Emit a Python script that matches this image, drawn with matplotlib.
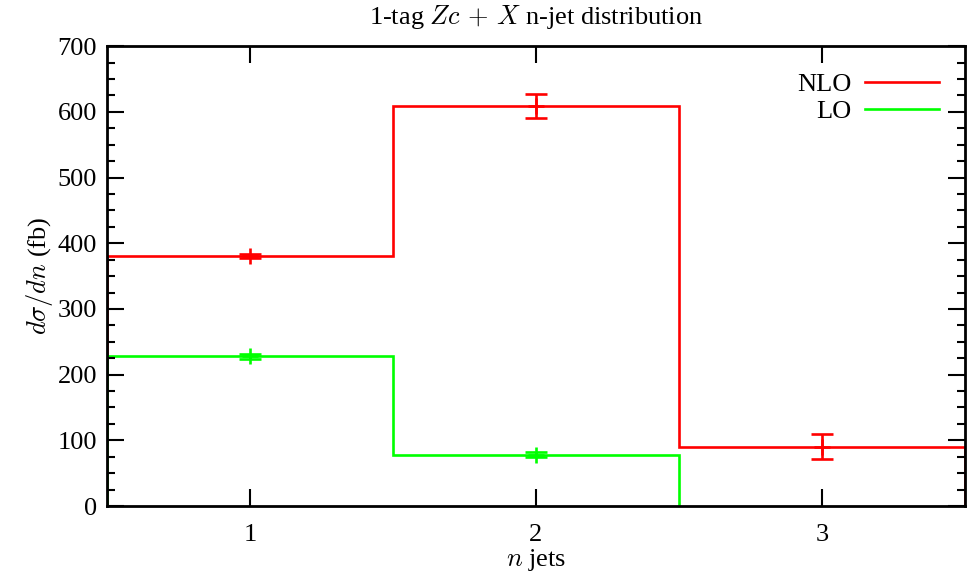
import numpy as np
import matplotlib.pyplot as plt
from matplotlib.ticker import MultipleLocator

plt.rcParams['font.family'] = ['Liberation Serif', 'DejaVu Serif']
plt.rcParams['mathtext.fontset'] = 'cm'

# bin edges and per-bin cross sections (fb)
nlo_edges = [0.5, 1.5, 2.5, 3.5]
nlo_vals = [381, 609, 90]
nlo_err = [3, 18, 19]

lo_edges = [0.5, 1.5, 2.5]
lo_vals = [228, 78]
lo_err = [4, 4]

fig = plt.figure(figsize=(9.71, 5.77), dpi=100)
ax = fig.add_axes([0.110, 0.123, 0.884, 0.797])

red = '#ff0000'
green = '#00ff00'

centers_nlo = 0.5 * (np.array(nlo_edges[:-1]) + np.array(nlo_edges[1:]))
centers_lo = 0.5 * (np.array(lo_edges[:-1]) + np.array(lo_edges[1:]))

ax.stairs(nlo_vals, nlo_edges, baseline=0, color=red, lw=1.9, label='NLO')
ax.errorbar(centers_nlo, nlo_vals, yerr=nlo_err, fmt='+', color=red,
            ms=12, mew=1.9, elinewidth=1.9, capsize=8, capthick=1.9)

ax.stairs(lo_vals, lo_edges, baseline=0, color=green, lw=1.9, label='LO')
ax.errorbar(centers_lo, lo_vals, yerr=lo_err, fmt='+', color=green,
            ms=12, mew=1.9, elinewidth=1.9, capsize=8, capthick=1.9)

ax.set_xlim(0.5, 3.5)
ax.set_ylim(0, 700)
ax.set_xticks([1, 2, 3])
ax.yaxis.set_major_locator(MultipleLocator(100))
ax.yaxis.set_minor_locator(MultipleLocator(25))

ax.tick_params(which='both', direction='in', top=True, right=True,
               labelsize=19, width=1.5)
ax.tick_params(which='major', length=12, pad=7)
ax.tick_params(axis='x', which='major', pad=13)
ax.tick_params(which='minor', length=6)
ax.tick_params(axis='x', which='minor', bottom=False, top=False)
for s in ax.spines.values():
    s.set_linewidth(2)

ax.set_title(r'1-tag $Zc\,+\,X$ n-jet distribution', fontsize=19, pad=16)
ax.set_xlabel(r'$n$ jets', fontsize=19, labelpad=1)
ax.set_ylabel(r'$d\sigma/dn$ (fb)', fontsize=19, labelpad=2)

ax.legend(loc='upper right', frameon=False, markerfirst=False, fontsize=19,
          handlelength=2.8, handletextpad=0.5, labelspacing=0.15,
          borderaxespad=0.6)

fig.savefig('out.png', dpi=100)
